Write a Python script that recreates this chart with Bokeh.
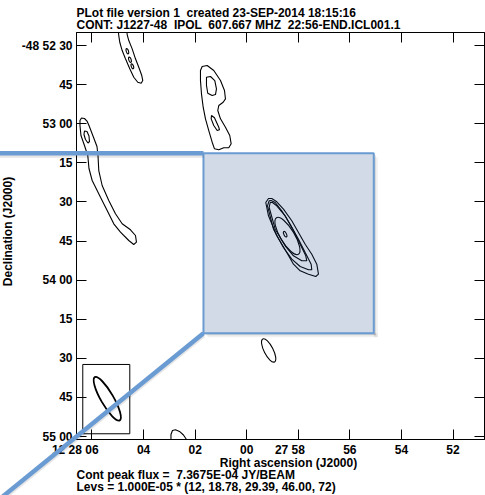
import numpy as np
from bokeh.plotting import figure
from bokeh.models import (Range1d, FixedTicker, LinearAxis, BoxAnnotation)
from bokeh.core.properties import value
from bokeh.embed import file_html
from bokeh.resources import INLINE

# ------------------------------------------------------------------ texts
title_line1 = "PLot file version 1  created 23-SEP-2014 18:15:16"
title_line2 = "CONT: J1227-48  IPOL  607.667 MHZ  22:56-END.ICL001.1"
x_title = "Right ascension (J2000)"
y_title = "Declination (J2000)"
peak_text = "Cont peak flux =  7.3675E-04 JY/BEAM"
levs_text = "Levs = 1.000E-05 * (12, 18.78, 29.39, 46.00, 72)"

# ------------------------------------------------------------------ axes
# x: RA seconds past 12h27m00s ; y: Dec arcsec beyond -48d52m00s (negative = south)
ra_ticks = [66, 64, 62, 60, 58, 56, 54, 52]
ra_labels = ["12 28 06", "04", "02", "00", "27 58", "56", "54", "52"]
dec_ticks = [-30, -45, -60, -75, -90, -105, -120, -135, -150, -165, -180]
dec_labels = ["-48 52 30", "45", "53 00", "15", "30", "45", "54 00",
              "15", "30", "45", "55 00"]
ra_limits = [66.60, 50.78]
dec_limits = [-181.15, -25.0]
dec0_deg = -48.88

# ------------------------------------------------------------------ contours (RA s, Dec ")
cA_ra = [64.992, 64.961, 64.922, 64.829, 64.701, 64.534, 64.379, 64.224, 64.092,
         64.030, 64.069, 64.185, 64.313, 64.441, 64.573, 64.635, 64.662]
cA_dec = [-23.48, -26.17, -28.74, -31.92, -35.10, -38.94, -42.16, -44.08, -44.46,
          -43.43, -41.51, -38.32, -35.10, -31.27, -28.08, -25.78, -23.48]

cB_ra = [61.727, 61.533, 61.277, 61.017, 60.862, 60.824, 60.913, 61.083, 61.122,
         61.017, 60.824, 60.657, 60.603, 60.696, 60.890, 61.083, 61.250, 61.339,
         61.471, 61.599, 61.688, 61.754, 61.793, 61.793]
cB_dec = [-38.06, -37.67, -39.59, -43.43, -47.26, -50.45, -51.75, -53.02, -54.93,
          -58.12, -61.34, -64.52, -67.71, -69.24, -69.24, -70.01, -69.63, -67.09,
          -62.61, -58.12, -53.67, -48.53, -43.43, -39.59]
cB1_ra = [61.560, 61.405, 61.238, 61.173, 61.211, 61.339, 61.510, 61.560]
cB1_dec = [-42.16, -41.89, -43.43, -46.61, -48.80, -49.18, -48.30, -45.34]
cB2_ra = [61.366, 61.250, 61.083, 61.056, 61.145, 61.277, 61.378]
cB2_dec = [-56.85, -57.73, -61.34, -62.34, -62.61, -60.69, -58.12]

cC_ra = [66.407, 66.291, 66.194, 66.116, 65.942, 65.806, 65.767, 65.736, 65.605,
         65.349, 65.089, 64.829, 64.507, 64.313, 64.275, 64.379, 64.573, 64.895,
         65.155, 65.411, 65.670, 65.992, 66.116, 66.163, 66.291, 66.427, 66.465,
         66.465]
cC_dec = [-57.81, -58.00, -58.96, -60.69, -65.18, -68.74, -72.20, -77.95, -83.70,
          -89.46, -94.56, -98.39, -100.69, -102.88, -105.45, -106.33, -104.80,
          -101.62, -98.39, -93.29, -88.19, -81.78, -77.18, -72.20, -68.36, -64.52,
          -60.69, -58.77]
cC1_ra = [66.291, 66.194, 66.116, 66.097, 66.155, 66.252, 66.310]
cC1_dec = [-62.80, -62.99, -64.72, -66.82, -67.40, -66.06, -64.14]

cD1_ra = [59.156, 59.261, 59.156, 58.834, 58.447, 58.187, 57.927, 57.605, 57.322,
          57.218, 57.283, 57.477, 57.733, 57.993, 58.253, 58.575, 58.834, 59.028]
cD1_dec = [-88.69, -90.22, -95.32, -103.00, -109.40, -113.89, -116.42, -117.73,
           -118.61, -117.73, -113.89, -110.05, -106.22, -101.73, -97.24, -92.79,
           -89.95, -88.69]
cD2_ra = [59.129, 59.195, 58.962, 58.575, 58.253, 57.927, 57.605, 57.477, 57.501,
          57.733, 57.993, 58.315, 58.641, 58.896, 59.052]
cD2_dec = [-89.57, -91.49, -100.47, -107.48, -111.97, -114.77, -116.04, -116.04,
           -113.89, -109.40, -104.30, -98.55, -93.41, -90.22, -89.46]
cD3_ra = [59.090, 59.129, 58.896, 58.509, 58.187, 57.865, 57.671, 57.710, 57.927,
          58.187, 58.509, 58.834, 59.001]
cD3_dec = [-90.22, -92.14, -100.47, -106.83, -110.67, -112.59, -112.59, -110.67,
           -106.22, -101.08, -95.32, -91.49, -90.22]

cF_ra = [62.937, 62.937, 62.879, 62.762, 62.607, 62.452, 62.336, 62.278]
cF_dec = [-183.82, -179.21, -177.68, -177.41, -178.06, -179.41, -181.13, -183.82]

# elliptical contours: centre (RA s, Dec "), major/minor axes ("), PA (deg E of N)
ell_ra = [58.420, 58.509, 59.149, 64.627, 64.527, 64.434]
ell_dec = [-103.07, -102.38, -146.99, -32.19, -35.45, -37.98]
ell_maj = [16.4, 2.3, 9.9, 2.1, 2.1, 2.0]
ell_min = [5.4, 1.0, 3.5, 0.85, 0.9, 0.85]
ell_pa = [31, 25, 27, 18, 18, 18]

# restoring beam and its box
beam_ra = [65.407]
beam_dec = [-165.52]
beam_maj = [19.2]
beam_min = [4.8]
beam_pa = [30]
beam_box_ra = [66.357, 64.534]
beam_box_dec = [-178.95, -152.36]

# zoom call-out overlay
zoom_box_ra = [61.677, 55.073]
zoom_box_dec = [-140.36, -71.31]
callout1_ra = [69.80, 61.677]
callout1_dec = [-71.31, -71.31]
callout2_ra = [61.677, 69.788]
callout2_dec = [-140.36, -205.68]

# text anchors (RA s, Dec ") outside the map frame
header_ra = [66.60, 66.60]
header_dec = [-17.46, -22.06]
footer_ra = [66.60, 66.60]
footer_dec = [-194.75, -199.20]
xtitle_pos = (58.381, -190.26)
ytitle_pos = (69.265, -101.35)

# ------------------------------------------------------------------ figure
FONT = "Liberation Sans"
BLUE = "#6a9bd2"

p = figure(width=485, height=495,
           x_range=Range1d(*ra_limits), y_range=Range1d(*dec_limits),
           output_backend="svg", toolbar_location=None,
           min_border_left=76, min_border_right=1,
           min_border_top=32, min_border_bottom=56)
p.xgrid.visible = False
p.ygrid.visible = False
p.outline_line_color = "black"
p.outline_line_width = 1
p.background_fill_color = "white"
p.border_fill_color = "white"


def style_axis(ax, ticks, overrides=None, standoff=4):
    ax.ticker = FixedTicker(ticks=ticks, minor_ticks=[])
    ax.major_tick_in = 10
    ax.major_tick_out = 0
    ax.minor_tick_in = 0
    ax.minor_tick_out = 0
    ax.minor_tick_line_color = None
    ax.axis_line_color = "black"
    ax.axis_line_width = 1
    ax.major_tick_line_color = "black"
    ax.major_tick_line_width = 1
    if overrides is None:
        ax.major_label_overrides = {t: "" for t in ticks}
        ax.major_label_text_font_size = "0px"
        ax.major_label_standoff = 0
    else:
        ax.major_label_overrides = overrides
        ax.major_label_text_font = FONT
        ax.major_label_text_font_style = "bold"
        ax.major_label_text_font_size = "12px"
        ax.major_label_text_color = "black"
        ax.major_label_standoff = standoff


def centred_on_last(label):
    # keep the last field centred on its tick: pad right by the prefix width
    if " " not in label:
        return label
    prefix = label.rsplit(" ", 1)[0] + " "
    n = 2 * sum(ch.isdigit() for ch in prefix) + prefix.count(" ")
    return label + "\u00a0" * n


def keep_spaces(s):
    return s.replace("  ", " \u00a0")


style_axis(p.xaxis[0], ra_ticks,
           {t: centred_on_last(l) for t, l in zip(ra_ticks, ra_labels)}, standoff=3)
style_axis(p.yaxis[0], dec_ticks,
           {t: l for t, l in zip(dec_ticks, dec_labels)}, standoff=4)
top_ax = LinearAxis()
right_ax = LinearAxis()
p.add_layout(top_ax, "above")
p.add_layout(right_ax, "right")
style_axis(top_ax, ra_ticks)
style_axis(right_ax, dec_ticks)

# ------------------------------------------------------------------ contours
poly_xs = [cA_ra, cB_ra, cB1_ra, cB2_ra, cC_ra, cC1_ra, cD1_ra, cD2_ra, cD3_ra, cF_ra]
poly_ys = [cA_dec, cB_dec, cB1_dec, cB2_dec, cC_dec, cC1_dec, cD1_dec, cD2_dec, cD3_dec, cF_dec]
p.patches(xs=poly_xs, ys=poly_ys, fill_color=None, line_color="black", line_width=1.1)

ra_s_per_arcsec = 1.0 / (15.0 * np.cos(np.radians(dec0_deg)))
p.ellipse(x=ell_ra, y=ell_dec,
          width=[m * ra_s_per_arcsec for m in ell_min], height=ell_maj,
          angle=[np.radians(a) for a in ell_pa],
          fill_color=None, line_color="black", line_width=1.1)

p.ellipse(x=beam_ra, y=beam_dec,
          width=[m * ra_s_per_arcsec for m in beam_min], height=beam_maj,
          angle=[np.radians(a) for a in beam_pa],
          fill_color=None, line_color="black", line_width=1.8)
p.quad(left=[beam_box_ra[0]], right=[beam_box_ra[1]],
       bottom=[beam_box_dec[0]], top=[beam_box_dec[1]],
       fill_color=None, line_color="black", line_width=1)

# ------------------------------------------------------------------ call-out overlay
px_per_s = 408.0 / (ra_limits[0] - ra_limits[1])
px_per_as = 407.0 / (dec_limits[1] - dec_limits[0])

# soft drop shadow on the right and bottom of the box
for w, a in ((2.0, 0.12), (4.0, 0.06)):
    dx = w / px_per_s
    dy = w / px_per_as
    p.add_layout(BoxAnnotation(left=zoom_box_ra[1], right=zoom_box_ra[1] - dx,
                               top=zoom_box_dec[1] - dy, bottom=zoom_box_dec[0] - dy,
                               fill_color="black", fill_alpha=a, line_color=None))
    p.add_layout(BoxAnnotation(left=zoom_box_ra[0] - dx, right=zoom_box_ra[1] - dx,
                               top=zoom_box_dec[0], bottom=zoom_box_dec[0] - dy,
                               fill_color="black", fill_alpha=a, line_color=None))

p.add_layout(BoxAnnotation(left=zoom_box_ra[0], right=zoom_box_ra[1],
                           bottom=zoom_box_dec[0], top=zoom_box_dec[1],
                           fill_color="#194682", fill_alpha=0.2,
                           line_color=BLUE, line_alpha=1.0, line_width=2))

sh = 2.0 / px_per_as
for xs, ys in ((callout1_ra, callout1_dec), (callout2_ra, callout2_dec)):
    p.line(x=xs, y=[y - sh for y in ys], line_color="black", line_alpha=0.10,
           line_width=5, level="overlay")
    p.line(x=xs, y=ys, line_color=BLUE, line_width=4.5, level="overlay")

# ------------------------------------------------------------------ texts around the map
txt = dict(text_font=value(FONT), text_font_size="12px", text_font_style="bold",
           text_color="black", text_baseline="alphabetic", level="overlay")
p.text(x=header_ra + footer_ra, y=header_dec + footer_dec,
       text=[keep_spaces(s) for s in (title_line1, title_line2, peak_text, levs_text)],
       text_align="left", **txt)
p.text(x=[xtitle_pos[0]], y=[xtitle_pos[1]], text=[x_title], text_align="center", **txt)
p.text(x=[ytitle_pos[0]], y=[ytitle_pos[1]], text=[y_title], text_align="center",
       angle=np.pi / 2, **txt)

open("out.html", "w").write(file_html(p, INLINE))
